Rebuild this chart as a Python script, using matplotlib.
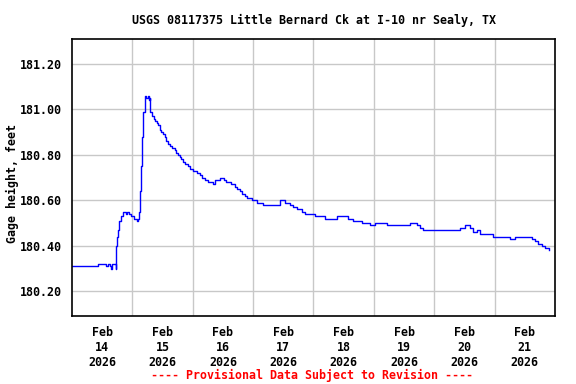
import matplotlib
matplotlib.use("Agg")
import matplotlib.pyplot as plt
from matplotlib.ticker import FixedLocator, NullFormatter

# hours since 2026-02-14 00:00
hours = [0, 10.4, 13.4, 14.2, 15.0, 15.4, 15.8, 17.3, 17.5, 17.8, 18.3, 18.7, 19.3,
         20.1, 21.5, 22.0, 22.6, 23.4, 24.6, 25.8, 26.3, 26.7, 27.0, 27.4, 27.9,
         28.3, 29.0, 29.2, 29.6, 30.1, 30.5, 31.0, 31.2, 32.0, 32.5, 33.1, 33.6,
         34.1, 34.9, 35.5, 36.1, 36.9, 37.5, 38.1, 38.9, 39.7, 40.9, 41.5, 42.2,
         42.9, 43.3, 44.2, 44.9, 46.2, 46.8, 48.0, 49.5, 50.8, 51.5, 52.8, 54.0,
         56.0, 56.8, 58.8, 60.4, 61.2, 63.4, 64.8, 65.5, 66.7, 67.5, 68.7, 69.5,
         71.5, 73.4, 76.0, 82.6, 84.6, 86.6, 87.8, 89.4, 91.3, 92.6, 96.6, 100.5,
         105.3, 109.7, 111.7, 115.3, 118.4, 120.4, 125.2, 134.3, 137.1, 138.3,
         139.5, 154.2, 156.2, 158.2, 159.4, 161.0, 162.2, 167.4, 174.1, 176.1,
         182.9, 184.1, 185.3, 186.9, 188.1, 189.7]
gage = [180.31, 180.32, 180.31, 180.32, 180.31, 180.30, 180.32, 180.30, 180.40,
        180.44, 180.47, 180.51, 180.53, 180.55, 180.54, 180.55, 180.54, 180.53,
        180.52, 180.51, 180.52, 180.55, 180.64, 180.75, 180.88, 180.99, 181.03,
        181.06, 181.05, 181.06, 181.04, 181.05, 180.99, 180.97, 180.96, 180.95,
        180.94, 180.93, 180.91, 180.90, 180.89, 180.88, 180.86, 180.85, 180.84,
        180.83, 180.82, 180.81, 180.80, 180.79, 180.78, 180.77, 180.76, 180.75,
        180.74, 180.73, 180.72, 180.71, 180.70, 180.69, 180.68, 180.67, 180.69,
        180.70, 180.69, 180.68, 180.67, 180.66, 180.65, 180.64, 180.63, 180.62,
        180.61, 180.60, 180.59, 180.58, 180.60, 180.59, 180.58, 180.57, 180.56,
        180.55, 180.54, 180.53, 180.52, 180.53, 180.52, 180.51, 180.50, 180.49,
        180.50, 180.49, 180.50, 180.49, 180.48, 180.47, 180.48, 180.49, 180.48,
        180.46, 180.47, 180.45, 180.44, 180.43, 180.44, 180.43, 180.42, 180.41,
        180.40, 180.39, 180.38]

day_labels = ["Feb\n14\n2026", "Feb\n15\n2026", "Feb\n16\n2026", "Feb\n17\n2026",
              "Feb\n18\n2026", "Feb\n19\n2026", "Feb\n20\n2026", "Feb\n21\n2026"]
y_ticks = [180.20, 180.40, 180.60, 180.80, 181.00, 181.20]

title = "USGS 08117375 Little Bernard Ck at I-10 nr Sealy, TX"
ylabel = "Gage height, feet"
footer = "---- Provisional Data Subject to Revision ----"

font = dict(family="DejaVu Sans Mono", weight="bold", size=8.4)

fig = plt.figure(figsize=(5.76, 3.84), dpi=100)
ax = fig.add_axes([0.125, 0.177, 0.8385, 0.7214])

ax.plot(hours, gage, color="#0000FF", lw=1.0, drawstyle="steps-post")

ax.set_xlim(0, 192)
ax.set_ylim(180.091, 181.31)

ax.xaxis.set_major_locator(FixedLocator([24 * i for i in range(1, 8)]))
ax.xaxis.set_major_formatter(NullFormatter())
ax.xaxis.set_minor_locator(FixedLocator([12 + 24 * i for i in range(8)]))
ax.set_xticklabels(day_labels, minor=True, **font)

ax.set_yticks(y_ticks)
ax.set_yticklabels(["%.2f" % v for v in y_ticks], **font)

ax.tick_params(axis="both", which="both", length=0)
ax.tick_params(axis="y", pad=7)
ax.tick_params(axis="x", which="minor", pad=7)

ax.grid(True, which="major", color="#C8C8C8", lw=1.0)
ax.set_axisbelow(True)
for s in ax.spines.values():
    s.set_linewidth(1.2)
    s.set_color("black")

fig.text(0.545, 0.948, title, ha="center", va="center", **font)
fig.text(0.021, 0.523, ylabel, ha="center", va="center", rotation=90, **font)
fig.text(0.542, 0.023, footer, ha="center", va="center", color="#FF0000", **font)

fig.savefig("out.png", dpi=100)
